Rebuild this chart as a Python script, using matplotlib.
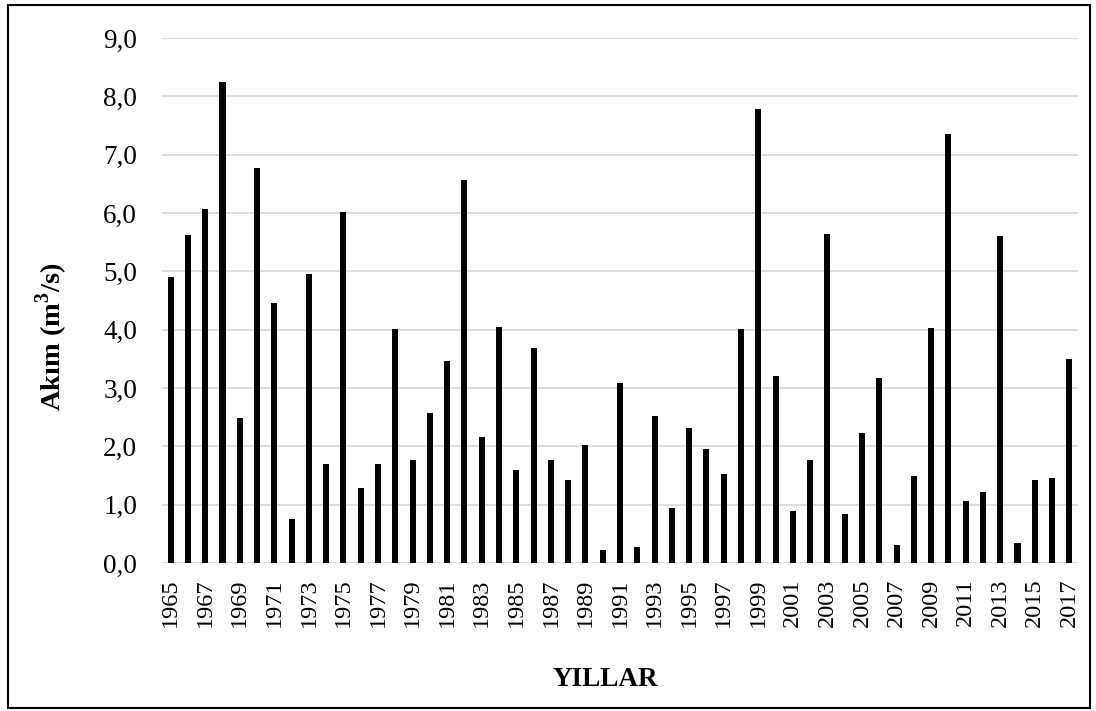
import matplotlib
matplotlib.use('Agg')
import matplotlib.pyplot as plt
from matplotlib.patches import Rectangle

years = list(range(1965, 2018))
flow = [4.91, 5.62, 6.07, 8.25, 2.49, 6.78, 4.46, 0.75, 4.95, 1.70,
        6.02, 1.28, 1.69, 4.01, 1.77, 2.58, 3.47, 6.57, 2.16, 4.04,
        1.60, 3.69, 1.77, 1.42, 2.03, 0.23, 3.09, 0.28, 2.52, 0.95,
        2.31, 1.95, 1.52, 4.02, 7.78, 3.20, 0.89, 1.76, 5.64, 0.84,
        2.23, 3.18, 0.31, 1.49, 4.03, 7.35, 1.07, 1.21, 5.60, 0.34,
        1.43, 1.45, 3.49]
yticks = [0, 1, 2, 3, 4, 5, 6, 7, 8, 9]

plt.rcParams['font.family'] = ['Liberation Serif', 'DejaVu Serif']
plt.rcParams['mathtext.fontset'] = 'custom'
plt.rcParams['mathtext.rm'] = 'Liberation Serif'
plt.rcParams['mathtext.bf'] = 'Liberation Serif:bold'

fig = plt.figure(figsize=(10.96, 7.11), dpi=100)
ax = fig.add_axes([162/1096, 1 - 563/711, 916/1096, 525/711])

x = range(len(years))
ax.bar(x, flow, width=0.35, color='black', zorder=3)

ax.set_xlim(-0.5, len(years) - 0.5)
ax.set_ylim(0, 9)
ax.set_yticks(yticks)
ax.set_yticklabels(['{:.1f}'.format(v).replace('.', ',') for v in yticks], fontsize=19.5)
ax.set_xticks(list(x)[::2])
ax.set_xticklabels([str(y) for y in years[::2]], rotation=90, fontsize=17.5)
ax.tick_params(axis='y', length=0, pad=18)
ax.tick_params(axis='x', length=0, pad=11)
ax.grid(axis='y', color='#d9d9d9', linewidth=1.3, zorder=0)
for s in ax.spines.values():
    s.set_visible(False)

fig.text(52/1096, 1 - 337/711, r'Akım (m$^{\mathbf{3}}$/s)', rotation=90, fontsize=20.5,
         fontweight='bold', ha='center', va='center')
fig.text(605/1096, 1 - 680/711, 'YILLAR', fontsize=19.5, fontweight='bold',
         ha='center', va='center')

fig.patches.append(Rectangle((8/1096, 3/711), 1082/1096, 703/711, transform=fig.transFigure,
                             fill=False, edgecolor='black', linewidth=1.5))

fig.savefig('out.png', dpi=100)
